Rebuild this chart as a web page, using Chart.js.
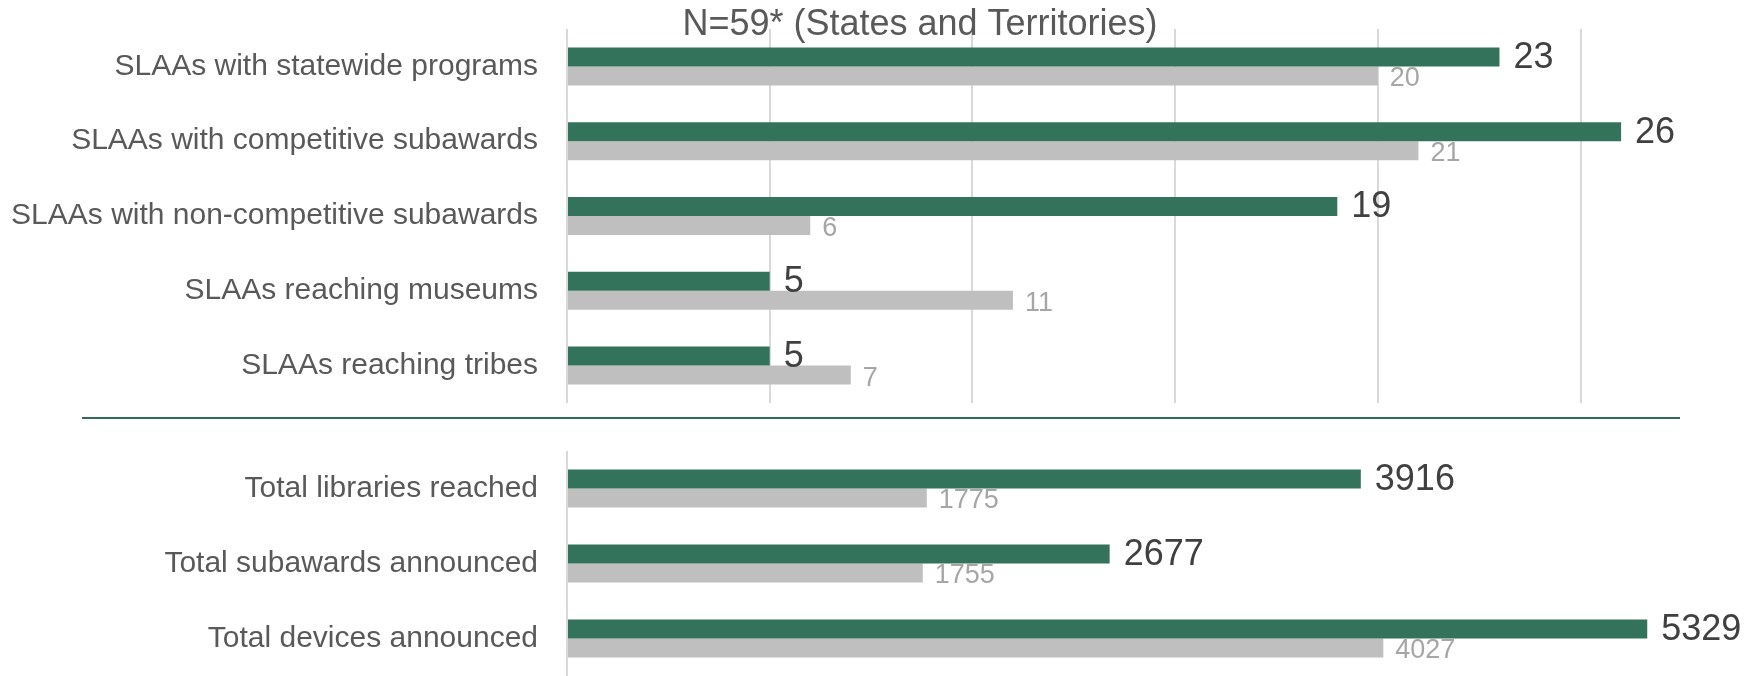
<!DOCTYPE html>
<html>
<head>
<meta charset="utf-8">
<script src="https://cdn.jsdelivr.net/npm/chart.js@4"></script>
<style>
  body { margin: 0; background: #fff; width: 1763px; height: 676px; overflow: hidden; position: relative; }
  #top { position: absolute; left: 0; top: 0; }
  #bottom { position: absolute; left: 0; top: 420px; }
  #sep { position: absolute; left: 82px; top: 417px; width: 1598px; height: 2px; background: #2f6d58; }
</style>
</head>
<body>
<canvas id="top" width="1763" height="410"></canvas>
<div id="sep"></div>
<canvas id="bottom" width="1763" height="256"></canvas>
<script>
// data
const titleText = 'N=59* (States and Territories)';
const topLabels = ['SLAAs with statewide programs', 'SLAAs with competitive subawards',
    'SLAAs with non-competitive subawards', 'SLAAs reaching museums', 'SLAAs reaching tribes'];
const topCurrent = [23, 26, 19, 5, 5];
const topPrior = [20, 21, 6, 11, 7];

const bottomLabels = ['Total libraries reached', 'Total subawards announced', 'Total devices announced'];
const bottomCurrent = [3916, 2677, 5329];
const bottomPrior = [1775, 1755, 4027];

const green = '#34735b';
const grey = '#bfbfbf';
const font = 'Liberation Sans';

// draws the value next to each bar
const valueLabels = {
    id: 'valueLabels',
    afterDatasetsDraw(chart) {
        const c = chart.ctx;
        c.save();
        c.textAlign = 'left';
        c.textBaseline = 'middle';
        chart.data.datasets.forEach((ds, i) => {
            const meta = chart.getDatasetMeta(i);
            meta.data.forEach((bar, j) => {
                if (i === 0) {
                    c.font = '36px "' + font + '"';
                    c.fillStyle = '#404040';
                    c.fillText(ds.data[j], bar.x + 14, bar.y + 1);
                } else {
                    c.font = '27px "' + font + '"';
                    c.fillStyle = '#a6a6a6';
                    c.fillText(ds.data[j], bar.x + 12, bar.y + 3);
                }
            });
        });
        c.restore();
    }
};

const titlePlugin = {
    id: 'titlePlugin',
    afterDraw(chart) {
        if (!chart.options.plugins.titlePlugin.show) return;
        const c = chart.ctx;
        c.save();
        c.font = '36px "' + font + '"';
        c.fillStyle = '#595959';
        c.textAlign = 'center';
        c.textBaseline = 'alphabetic';
        c.fillText(titleText, 920, 35);
        c.restore();
    }
};

function makeChart(id, labels, current, prior, max, step, padTop, padBottom, showTitle) {
    return new Chart(document.getElementById(id), {
        type: 'bar',
        data: {
            labels: labels,
            datasets: [{
                label: 'current',
                data: current,
                backgroundColor: green,
                categoryPercentage: 0.508,
                barPercentage: 1
            }, {
                label: 'prior',
                data: prior,
                backgroundColor: grey,
                categoryPercentage: 0.508,
                barPercentage: 1
            }]
        },
        options: {
            indexAxis: 'y',
            responsive: false,
            animation: false,
            devicePixelRatio: 1,
            layout: { padding: { left: 0, right: 0, top: padTop, bottom: padBottom } },
            plugins: {
                legend: { display: false },
                tooltip: { enabled: false },
                titlePlugin: { show: showTitle }
            },
            scales: {
                x: {
                    min: 0,
                    max: max,
                    ticks: { display: false, stepSize: step, padding: 0 },
                    border: { display: false },
                    grid: {
                        drawTicks: false,
                        tickLength: 0,
                        lineWidth: 2,
                        color: ctx => (ctx.tick && ctx.tick.value % step === 0) ? '#d9d9d9' : 'rgba(0,0,0,0)'
                    },
                    afterFit: s => { s.height = 0; s.paddingLeft = 0; s.paddingRight = 0; }
                },
                y: {
                    ticks: {
                        padding: 29,
                        color: '#595959',
                        font: { family: font, size: 30 }
                    },
                    grid: { display: false, drawTicks: false },
                    border: { display: false },
                    afterFit: s => { s.width = 567; s.paddingTop = 0; s.paddingBottom = 0; }
                }
            }
        },
        plugins: [valueLabels, titlePlugin]
    });
}

makeChart('top', topLabels, topCurrent, topPrior, 29.5, 5, 29, 7, true);
makeChart('bottom', bottomLabels, bottomCurrent, bottomPrior, 5900, 1000, 31, 0, false);
</script>
</body>
</html>
